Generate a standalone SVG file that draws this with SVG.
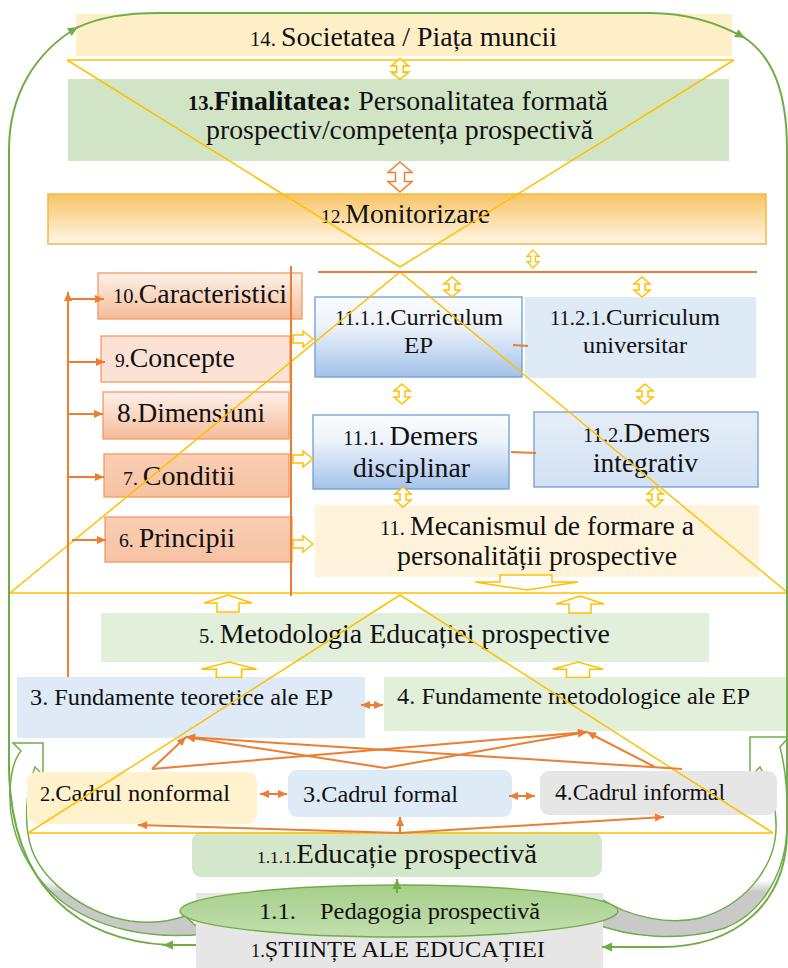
<svg xmlns="http://www.w3.org/2000/svg" width="788" height="968" viewBox="0 0 788 968" font-family="'Liberation Serif', 'DejaVu Serif', serif">
<defs>
<style>
text{font-family:'Liberation Serif','DejaVu Serif',serif;fill:#111;}
.o{stroke:#ED7D31;stroke-width:2;fill:none}
.y{stroke:#FFC000;stroke-width:1.5;fill:none}
.yh{fill:#fff;stroke:#FFC000;stroke-width:1.5}
.g{stroke:#70AD47;stroke-width:2;fill:none}
.sb{stroke:#F19A62;stroke-width:1.3}
.bb{stroke:#6C9FD8;stroke-width:1.3}
</style>
<linearGradient id="g12" x1="0" y1="0" x2="0" y2="1"><stop offset="0" stop-color="#F8C466"/><stop offset="1" stop-color="#FFF6E6"/></linearGradient>
<linearGradient id="gB" x1="0" y1="0" x2="0" y2="1"><stop offset="0" stop-color="#FAFCFE"/><stop offset="0.35" stop-color="#EEF3FA"/><stop offset="1" stop-color="#A3C2EA"/></linearGradient>
<linearGradient id="gB2" x1="0" y1="0" x2="0" y2="1"><stop offset="0" stop-color="#E6EEF8"/><stop offset="1" stop-color="#D2E1F3"/></linearGradient>
<linearGradient id="gS1" x1="0" y1="0" x2="0" y2="1"><stop offset="0" stop-color="#FDF1E9"/><stop offset="1" stop-color="#F6BC99"/></linearGradient>
<linearGradient id="gS2" x1="0" y1="0" x2="0" y2="1"><stop offset="0" stop-color="#F9CEB3"/><stop offset="1" stop-color="#F7C2A3"/></linearGradient>
<linearGradient id="gE" x1="0" y1="0" x2="0" y2="1"><stop offset="0" stop-color="#A6CF8A"/><stop offset="1" stop-color="#C2DFAF"/></linearGradient>
<linearGradient id="gC" gradientUnits="userSpaceOnUse" x1="0" y1="880" x2="0" y2="892"><stop offset="0" stop-color="#fff"/><stop offset="1" stop-color="#C9C9C9"/></linearGradient>
<marker id="ao" viewBox="0 0 10 10" refX="10" refY="5" markerWidth="10" markerHeight="9" markerUnits="userSpaceOnUse" orient="auto-start-reverse"><path d="M0,0.5 L10,5 L0,9.5 z" fill="#ED7D31"/></marker>
<marker id="ag" viewBox="0 0 10 10" refX="10" refY="5" markerWidth="12" markerHeight="10" markerUnits="userSpaceOnUse" orient="auto"><path d="M0,0.5 L10,5 L0,9.5 z" fill="#70AD47"/></marker>
<path id="ud" d="M0,-10 L8,-3 L3,-3 L3,3 L8,3 L0,10 L-8,3 L-3,3 L-3,-3 L-8,-3 Z"/>
<path id="ra" d="M0,-4 L10,-4 L10,-8 L20,0 L10,8 L10,4 L0,4 Z"/>
<path id="ua" d="M0,0 L24,8 L11,8 L11,17 L-11,17 L-11,8 L-24,8 Z"/>
</defs>
<rect x="0" y="0" width="788" height="968" fill="#fff"/>

<g id="curved-arrows">
<path d="M21,751 L13,743 L43,743 L43,775 L35,767 C26,790 23,825 32,850 C45,885 90,915 130,921 C155,924 170,921 185,916 L205,934 C150,940 95,928 60,900 C25,870 8,830 10,790 C11,770 15,758 21,751 Z" fill="url(#gC)" stroke="#70AD47" stroke-width="1.5"/>
<path d="M780,747 L789,737 L750,737 L750,777 L760,767 C772,790 779,815 775,840 C770,870 745,905 700,918 C670,925 630,918 600,898 L590,922 C630,938 680,942 725,928 C765,912 785,870 787,830 C788,800 786,770 780,747 Z" fill="url(#gC)" stroke="#70AD47" stroke-width="1.5"/>
</g>

<g id="n14"><rect x="76" y="14" width="656" height="42" fill="#FFEFC7"/>
<text x="250" y="46" textLength="307" lengthAdjust="spacingAndGlyphs"><tspan font-size="20">14. </tspan><tspan font-size="27">Societatea / Piața muncii</tspan></text></g>

<g id="n13"><rect x="68" y="79" width="661" height="82" fill="#D2E4C6"/>
<text x="188" y="110" textLength="420" lengthAdjust="spacingAndGlyphs"><tspan font-size="20" font-weight="bold">13.</tspan><tspan font-size="27" font-weight="bold">Finalitatea:</tspan><tspan font-size="27"> Personalitatea formată</tspan></text>
<text x="206" y="139" font-size="27" textLength="387" lengthAdjust="spacingAndGlyphs">prospectiv/competența prospectivă</text></g>

<g id="n12"><rect x="48" y="194" width="718" height="50" fill="url(#g12)" stroke="#F4B942" stroke-width="1.5"/>
<text x="321" y="223" textLength="169" lengthAdjust="spacingAndGlyphs"><tspan font-size="19">12.</tspan><tspan font-size="27">Monitorizare</tspan></text></g>

<g id="n10"><rect x="98" y="273" width="204" height="46" fill="url(#gS1)" class="sb"/>
<text x="113" y="303" textLength="174" lengthAdjust="spacingAndGlyphs"><tspan font-size="20">10.</tspan><tspan font-size="27">Caracteristici</tspan></text></g>
<g id="n9"><rect x="101" y="336" width="189" height="46" fill="#FBE2D5" class="sb"/>
<text x="115" y="367" textLength="120" lengthAdjust="spacingAndGlyphs"><tspan font-size="19">9.</tspan><tspan font-size="27">Concepte</tspan></text></g>
<g id="n8"><rect x="103" y="392" width="186" height="47" fill="url(#gS1)" class="sb"/>
<text x="117" y="422" font-size="27" textLength="148" lengthAdjust="spacingAndGlyphs">8.Dimensiuni</text></g>
<g id="n7"><rect x="104" y="454" width="185" height="43" fill="url(#gS2)" class="sb"/>
<text x="123" y="485" textLength="112" lengthAdjust="spacingAndGlyphs"><tspan font-size="19">7. </tspan><tspan font-size="27">Conditii</tspan></text></g>
<g id="n6"><rect x="105" y="517" width="187" height="45" fill="url(#gS2)" class="sb"/>
<text x="119" y="547" textLength="116" lengthAdjust="spacingAndGlyphs"><tspan font-size="19">6. </tspan><tspan font-size="27">Principii</tspan></text></g>

<g id="n1111"><rect x="315" y="297" width="207" height="80" fill="url(#gB)" class="bb"/>
<text x="335" y="325" textLength="168" lengthAdjust="spacingAndGlyphs"><tspan font-size="20">11.1.1.</tspan><tspan font-size="24">Curriculum</tspan></text>
<text x="404" y="353" font-size="24" textLength="29" lengthAdjust="spacingAndGlyphs">EP</text></g>
<g id="n1121"><rect x="525" y="297" width="231" height="81" fill="#DEEAF6"/>
<text x="550" y="325" textLength="170" lengthAdjust="spacingAndGlyphs"><tspan font-size="20">11.2.1.</tspan><tspan font-size="24">Curriculum</tspan></text>
<text x="583" y="353" font-size="24" textLength="104" lengthAdjust="spacingAndGlyphs">universitar</text></g>
<g id="n111"><rect x="313" y="415" width="196" height="74" fill="url(#gB)" class="bb"/>
<text x="343" y="445" textLength="135" lengthAdjust="spacingAndGlyphs"><tspan font-size="20">11.1. </tspan><tspan font-size="27">Demers</tspan></text>
<text x="353" y="477" font-size="27" textLength="117" lengthAdjust="spacingAndGlyphs">disciplinar</text></g>
<g id="n112"><rect x="534" y="412" width="224" height="75" fill="url(#gB2)" class="bb"/>
<text x="583" y="442" textLength="127" lengthAdjust="spacingAndGlyphs"><tspan font-size="20">11.2.</tspan><tspan font-size="27">Demers</tspan></text>
<text x="593" y="472" font-size="27" textLength="105" lengthAdjust="spacingAndGlyphs">integrativ</text></g>
<g id="n11"><rect x="315" y="505" width="444" height="72" fill="#FFF4DB"/>
<text x="380" y="535" textLength="314" lengthAdjust="spacingAndGlyphs"><tspan font-size="20">11. </tspan><tspan font-size="27">Mecanismul de formare a</tspan></text>
<text x="397" y="565" font-size="27" textLength="280" lengthAdjust="spacingAndGlyphs">personalității prospective</text></g>

<g id="n5"><rect x="101" y="613" width="608" height="49" fill="#E2EFDA"/>
<text x="199" y="643" textLength="411" lengthAdjust="spacingAndGlyphs"><tspan font-size="20">5. </tspan><tspan font-size="27">Metodologia Educației prospective</tspan></text></g>
<g id="n3f"><rect x="17" y="677" width="348" height="61" fill="#DEEAF6"/>
<text x="30" y="705" font-size="23" textLength="303" lengthAdjust="spacingAndGlyphs">3. Fundamente teoretice ale EP</text></g>
<g id="n4f"><rect x="384" y="677" width="402" height="54" fill="#E2EFDA"/>
<text x="397" y="704" font-size="23" textLength="353" lengthAdjust="spacingAndGlyphs">4. Fundamente metodologice ale EP</text></g>

<g id="n2c"><rect x="27" y="772" width="230" height="52" rx="9" fill="#FFF2CC"/>
<text x="40" y="801" textLength="190" lengthAdjust="spacingAndGlyphs"><tspan font-size="20">2.</tspan><tspan font-size="24">Cadrul nonformal</tspan></text></g>
<g id="n3c"><rect x="288" y="770" width="224" height="47" rx="9" fill="#DEEBF7"/>
<text x="303" y="802" font-size="24" textLength="155" lengthAdjust="spacingAndGlyphs">3.Cadrul formal</text></g>
<g id="n4c"><rect x="540" y="771" width="237" height="44" rx="9" fill="#E6E6E6"/>
<text x="555" y="800" font-size="24" textLength="170" lengthAdjust="spacingAndGlyphs">4.Cadrul informal</text></g>

<g id="n111e"><rect x="192" y="832" width="410" height="45" rx="9" fill="#D5E7CB"/>
<text x="257" y="863" textLength="280" lengthAdjust="spacingAndGlyphs"><tspan font-size="17">1.1.1.</tspan><tspan font-size="28">Educație prospectivă</tspan></text></g>
<g id="n1"><rect x="196" y="893" width="407" height="75" fill="#E7E6E6"/>
<text x="251" y="957" textLength="294" lengthAdjust="spacingAndGlyphs"><tspan font-size="18">1.</tspan><tspan font-size="24">ȘTIINȚE ALE EDUCAȚIEI</tspan></text></g>
<g id="n11p"><ellipse cx="399" cy="911" rx="219" ry="26" fill="url(#gE)" stroke="#70AD47" stroke-width="1.3"/>
<text x="259" y="919" font-size="24" textLength="37" lengthAdjust="spacingAndGlyphs">1.1.</text>
<text x="320" y="919" font-size="24" textLength="220" lengthAdjust="spacingAndGlyphs">Pedagogia prospectivă</text></g>

<g id="guides">
<path class="y" d="M67,60 L734,60 M67,60 L400,267 L734,60"/>
<path class="y" d="M10,593 L788,593 M10,593 L400,272 L788,593"/>
<path class="y" d="M28,833 L773,833 M28,833 L400,595 L773,833"/>
</g>

<g id="connectors">
<path class="g" d="M196,945 L163,945" marker-end="url(#ag)"/>
<path class="g" d="M168,945 C80,940 12,890 9,770 L9,150 C9,95 35,52 78,27" marker-end="url(#ag)"/>
<path class="g" d="M76,28 C100,17 125,13 160,13 L650,13 C690,13 720,24 745,38" marker-end="url(#ag)"/>
<path class="g" d="M742,36 C772,55 787,90 787,150 L787,830 C787,905 735,947 660,947 L602,947" marker-end="url(#ag)"/>
<path class="g" d="M397,893 L397,879" marker-end="url(#ag)"/>

<use href="#ud" class="yh" transform="translate(400,69) scale(1.1,1.05)"/>
<use href="#ud" transform="translate(400,177) scale(1.5,1.5)" fill="#fff" stroke="#ED7D31" stroke-width="1"/>
<use href="#ud" class="yh" transform="translate(533,259) scale(0.75,0.9)"/>
<use href="#ud" class="yh" transform="translate(452,287)"/>
<use href="#ud" class="yh" transform="translate(642,287)"/>
<use href="#ud" class="yh" transform="translate(402,394)"/>
<use href="#ud" class="yh" transform="translate(645,394)"/>
<use href="#ud" class="yh" transform="translate(403,497)"/>
<use href="#ud" class="yh" transform="translate(655,497)"/>

<use href="#ra" class="yh" transform="translate(293,339)"/>
<use href="#ra" class="yh" transform="translate(293,459)"/>
<use href="#ra" class="yh" transform="translate(293,544)"/>

<path class="yh" d="M500,575 L552,575 L552,582 L578,582 L527,590 L475,582 L500,582 Z"/>
<use href="#ua" class="yh" transform="translate(228,595)"/>
<use href="#ua" class="yh" transform="translate(580,596)"/>
<use href="#ua" class="yh" transform="translate(229,662) scale(1.15,0.9)"/>
<use href="#ua" class="yh" transform="translate(578,662) scale(1.05,0.9)"/>

<path class="o" d="M318,272 L757,272"/>
<path class="o" d="M291,266 L291,596"/>
<path class="o" d="M513,345 L528,346"/>
<path class="o" d="M511,452 L536,453" stroke-width="1.5"/>
<path class="o" d="M68,677 L68,292" marker-end="url(#ao)"/>
<path class="o" d="M68,299 L104,299" marker-end="url(#ao)"/>
<path class="o" d="M68,362 L105,362" marker-end="url(#ao)"/>
<path class="o" d="M68,414 L103,414" marker-end="url(#ao)"/>
<path class="o" d="M68,477 L104,477" marker-end="url(#ao)"/>
<path class="o" d="M72,540 L106,540" marker-end="url(#ao)"/>

<path class="o" d="M361,705 L383,705" marker-start="url(#ao)" marker-end="url(#ao)"/>
<path class="o" d="M260,794 L287,794" marker-start="url(#ao)" marker-end="url(#ao)"/>
<path class="o" d="M509,796 L535,796" marker-start="url(#ao)" marker-end="url(#ao)"/>

<path class="o" d="M152,769 L186,737" marker-end="url(#ao)"/>
<path class="o" d="M152,769 L587,732" marker-end="url(#ao)"/>
<path class="o" d="M385,768 L186,737" marker-end="url(#ao)"/>
<path class="o" d="M385,768 L587,732" marker-end="url(#ao)"/>
<path class="o" d="M682,769 L186,737" marker-end="url(#ao)"/>
<path class="o" d="M655,767 L587,732" marker-end="url(#ao)"/>
<path class="o" d="M400,833 L400,817" marker-end="url(#ao)"/>
<path class="o" d="M400,833 L138,825" marker-end="url(#ao)"/>
<path class="o" d="M400,833 L664,817" marker-end="url(#ao)"/>
</g>
</svg>
